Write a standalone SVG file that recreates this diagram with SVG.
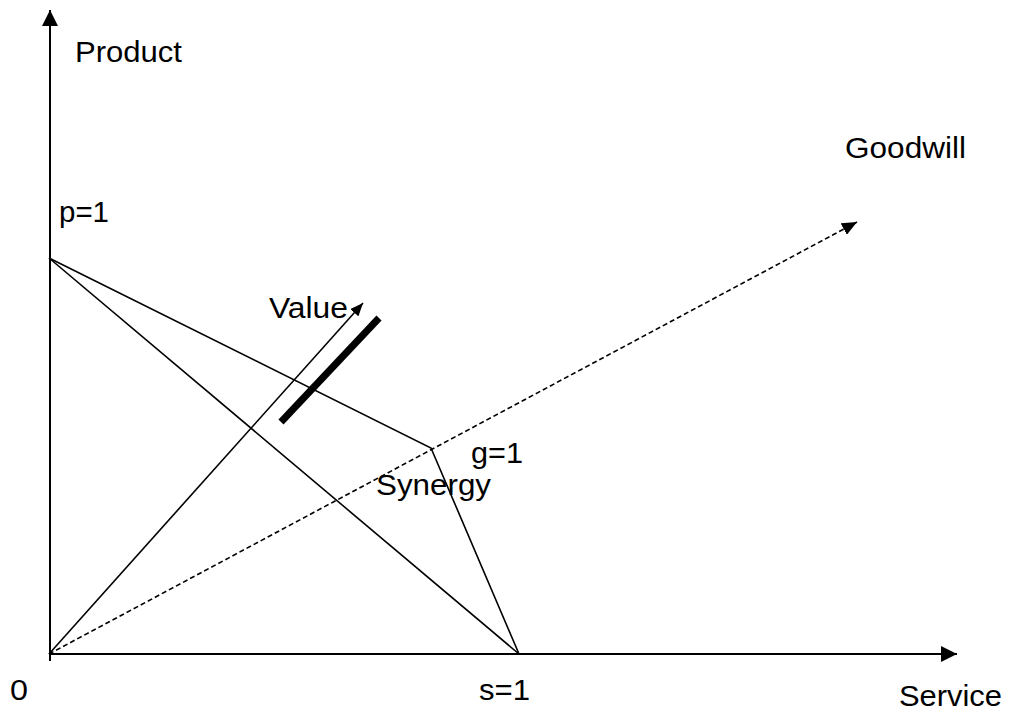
<svg xmlns="http://www.w3.org/2000/svg" width="1010" height="715" viewBox="0 0 1010 715">
<style>
text{font-family:"Liberation Sans",Arial,sans-serif;font-size:29px;fill:#000}
.ax{stroke:#000;stroke-width:2;fill:none}
.ln{stroke:#000;stroke-width:1.6;fill:none}
.ds{stroke:#000;stroke-width:1.6;fill:none;stroke-dasharray:5 3}
</style>
<defs>
<marker id="big" viewBox="0 0 16 16" refX="16" refY="8" markerWidth="16" markerHeight="16" markerUnits="userSpaceOnUse" orient="auto">
<path d="M0,0 L16,8 L0,16 Z" fill="#000"/>
</marker>
<marker id="mid" viewBox="0 0 15 13" refX="15" refY="6.5" markerWidth="15" markerHeight="13" markerUnits="userSpaceOnUse" orient="auto">
<path d="M0,0 L15,6.5 L0,13 Z" fill="#000"/>
</marker>
<marker id="sm" viewBox="0 0 13 11" refX="13" refY="5.5" markerWidth="13" markerHeight="11" markerUnits="userSpaceOnUse" orient="auto">
<path d="M0,0 L13,5.5 L0,11 Z" fill="#000"/>
</marker>
</defs>
<g id="connectors">
<line class="ax" x1="50" y1="661" x2="50" y2="10" marker-end="url(#big)"/>
<line class="ax" x1="49" y1="654" x2="957" y2="654" marker-end="url(#big)"/>
<line class="ln" x1="49" y1="258" x2="519" y2="654"/>
<polyline class="ln" points="49,258 431,448 519,654"/>
<line class="ln" x1="49" y1="654" x2="363" y2="303" marker-end="url(#sm)"/>
<line class="ds" x1="49" y1="654" x2="857" y2="222" marker-end="url(#mid)"/>
<line x1="281" y1="422" x2="379" y2="318" stroke="#000" stroke-width="7"/>
</g>
<g id="labels">
<text x="75" y="62" textLength="107" lengthAdjust="spacingAndGlyphs">Product</text>
<text x="845" y="158" textLength="121" lengthAdjust="spacingAndGlyphs">Goodwill</text>
<text x="59" y="222" textLength="50" lengthAdjust="spacingAndGlyphs">p=1</text>
<text x="269" y="318" textLength="79" lengthAdjust="spacingAndGlyphs">Value</text>
<text x="471" y="463" textLength="52" lengthAdjust="spacingAndGlyphs">g=1</text>
<text x="376" y="495" textLength="115" lengthAdjust="spacingAndGlyphs">Synergy</text>
<text x="10" y="700" textLength="18" lengthAdjust="spacingAndGlyphs">0</text>
<text x="479" y="700" textLength="51" lengthAdjust="spacingAndGlyphs">s=1</text>
<text x="899" y="706" textLength="103" lengthAdjust="spacingAndGlyphs">Service</text>
</g>
</svg>
